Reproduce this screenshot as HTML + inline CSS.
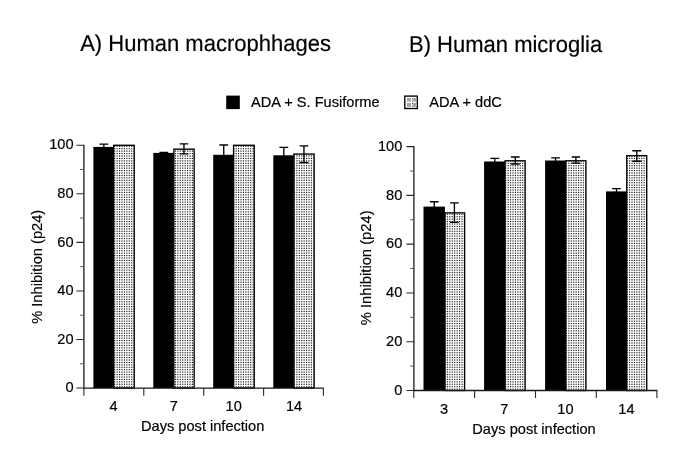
<!DOCTYPE html>
<html lang="en">
<head>
<meta charset="utf-8">
<title>Inhibition of p24 in human macrophages and microglia</title>
<style>
html,body{margin:0;padding:0;background:#fff;}
body{width:685px;height:464px;overflow:hidden;}
svg{display:block;}
svg text{font-family:"Liberation Sans",Arial,Helvetica,sans-serif;font-size:14.6px;fill:#000;stroke:#000;stroke-width:0.18px;}
svg text.title{font-size:22px;text-rendering:geometricPrecision;}
</style>
</head>
<body>
<svg width="685" height="464" viewBox="0 0 685 464">
<defs>
<pattern id="dots" x="0" y="0" width="17" height="17" patternUnits="userSpaceOnUse">
<rect x="0" y="0" width="17" height="17" fill="#fff"/>
<g fill="#111"><rect x="0.000" y="0.000" width="1.15" height="1.15"/><rect x="2.429" y="0.000" width="1.15" height="1.15"/><rect x="4.857" y="0.000" width="1.15" height="1.15"/><rect x="7.286" y="0.000" width="1.15" height="1.15"/><rect x="9.714" y="0.000" width="1.15" height="1.15"/><rect x="12.143" y="0.000" width="1.15" height="1.15"/><rect x="14.571" y="0.000" width="1.15" height="1.15"/><rect x="0.000" y="2.429" width="1.15" height="1.15"/><rect x="2.429" y="2.429" width="1.15" height="1.15"/><rect x="4.857" y="2.429" width="1.15" height="1.15"/><rect x="7.286" y="2.429" width="1.15" height="1.15"/><rect x="9.714" y="2.429" width="1.15" height="1.15"/><rect x="12.143" y="2.429" width="1.15" height="1.15"/><rect x="14.571" y="2.429" width="1.15" height="1.15"/><rect x="0.000" y="4.857" width="1.15" height="1.15"/><rect x="2.429" y="4.857" width="1.15" height="1.15"/><rect x="4.857" y="4.857" width="1.15" height="1.15"/><rect x="7.286" y="4.857" width="1.15" height="1.15"/><rect x="9.714" y="4.857" width="1.15" height="1.15"/><rect x="12.143" y="4.857" width="1.15" height="1.15"/><rect x="14.571" y="4.857" width="1.15" height="1.15"/><rect x="0.000" y="7.286" width="1.15" height="1.15"/><rect x="2.429" y="7.286" width="1.15" height="1.15"/><rect x="4.857" y="7.286" width="1.15" height="1.15"/><rect x="7.286" y="7.286" width="1.15" height="1.15"/><rect x="9.714" y="7.286" width="1.15" height="1.15"/><rect x="12.143" y="7.286" width="1.15" height="1.15"/><rect x="14.571" y="7.286" width="1.15" height="1.15"/><rect x="0.000" y="9.714" width="1.15" height="1.15"/><rect x="2.429" y="9.714" width="1.15" height="1.15"/><rect x="4.857" y="9.714" width="1.15" height="1.15"/><rect x="7.286" y="9.714" width="1.15" height="1.15"/><rect x="9.714" y="9.714" width="1.15" height="1.15"/><rect x="12.143" y="9.714" width="1.15" height="1.15"/><rect x="14.571" y="9.714" width="1.15" height="1.15"/><rect x="0.000" y="12.143" width="1.15" height="1.15"/><rect x="2.429" y="12.143" width="1.15" height="1.15"/><rect x="4.857" y="12.143" width="1.15" height="1.15"/><rect x="7.286" y="12.143" width="1.15" height="1.15"/><rect x="9.714" y="12.143" width="1.15" height="1.15"/><rect x="12.143" y="12.143" width="1.15" height="1.15"/><rect x="14.571" y="12.143" width="1.15" height="1.15"/><rect x="0.000" y="14.571" width="1.15" height="1.15"/><rect x="2.429" y="14.571" width="1.15" height="1.15"/><rect x="4.857" y="14.571" width="1.15" height="1.15"/><rect x="7.286" y="14.571" width="1.15" height="1.15"/><rect x="9.714" y="14.571" width="1.15" height="1.15"/><rect x="12.143" y="14.571" width="1.15" height="1.15"/><rect x="14.571" y="14.571" width="1.15" height="1.15"/></g>
</pattern>
</defs>
<rect x="0" y="0" width="685" height="464" fill="#fff"/>
<text transform="translate(80.20 50.70) scale(1 1.04)" class="title">A) Human macrophhages</text>
<text transform="translate(409.00 51.80) scale(1 1.04)" class="title">B) Human microglia</text>
<rect x="226.2" y="95.6" width="13.6" height="13.5" fill="#000"/>
<text transform="translate(251.00 107.40) scale(1 1.065)">ADA + S. Fusiforme</text>
<rect x="404.8" y="96.1" width="12.5" height="12.4" fill="#fff" stroke="#000" stroke-width="1.35"/>
<g fill="#a4a4a4"><rect x="407" y="98" width="4" height="3.6"/><rect x="413" y="98" width="3" height="3.6"/><rect x="407" y="103" width="4" height="3.8"/><rect x="413" y="103" width="3" height="3.8"/></g>
<g fill="#444"><rect x="412" y="98.2" width="1" height="1"/><rect x="412" y="100.6" width="1" height="1"/><rect x="412" y="103.1" width="1" height="1"/><rect x="412" y="105.6" width="1" height="1"/></g>
<text transform="translate(429.20 107.40) scale(1 1.065)">ADA + ddC</text>
<rect x="93.40" y="146.90" width="20.20" height="241.15" fill="#000"/>
<rect x="113.67" y="145.28" width="20.55" height="242.78" fill="url(#dots)" stroke="#000" stroke-width="1.35"/>
<path d="M99.40 144.10H108.30M103.85 144.10V147.90" stroke="#000" stroke-width="1.35" fill="none"/>
<rect x="153.30" y="152.90" width="20.50" height="235.15" fill="#000"/>
<rect x="173.88" y="149.18" width="20.25" height="238.88" fill="url(#dots)" stroke="#000" stroke-width="1.35"/>
<path d="M159.40 152.30H168.20M163.80 152.30V153.90" stroke="#000" stroke-width="1.35" fill="none"/>
<path d="M179.60 143.80H188.30M179.60 153.90H188.30M183.95 143.80V153.90" stroke="#000" stroke-width="1.35" fill="none"/>
<rect x="213.20" y="154.80" width="20.30" height="233.25" fill="#000"/>
<rect x="233.58" y="145.28" width="20.65" height="242.78" fill="url(#dots)" stroke="#000" stroke-width="1.35"/>
<path d="M219.40 145.00H228.10M223.75 145.00V155.80" stroke="#000" stroke-width="1.35" fill="none"/>
<rect x="273.30" y="155.30" width="20.50" height="232.75" fill="#000"/>
<rect x="293.88" y="154.08" width="20.25" height="233.97" fill="url(#dots)" stroke="#000" stroke-width="1.35"/>
<path d="M279.40 147.30H288.20M283.80 147.30V156.30" stroke="#000" stroke-width="1.35" fill="none"/>
<path d="M299.60 145.90H308.30M299.60 162.50H308.30M303.95 145.90V162.50" stroke="#000" stroke-width="1.35" fill="none"/>
<path d="M83.90 144.75V388.05H323.90" stroke="#1a1a1a" stroke-width="1.3" fill="none"/>
<path d="M76.40 388.05H83.90M76.40 339.49H83.90M76.40 290.93H83.90M76.40 242.37H83.90M76.40 193.81H83.90M76.40 145.25H83.90M83.90 388.05V395.65M143.80 388.05V395.65M203.70 388.05V395.65M263.60 388.05V395.65M323.40 388.05V395.65" stroke="#2a2a2a" stroke-width="1.1" fill="none"/>
<path d="M80.10 363.77H83.90M80.10 315.21H83.90M80.10 266.65H83.90M80.10 218.09H83.90M80.10 169.53H83.90" stroke="#555" stroke-width="1" fill="none"/>
<text transform="translate(73.60 392.20) scale(1 1.065)" text-anchor="end">0</text>
<text transform="translate(73.60 343.64) scale(1 1.065)" text-anchor="end">20</text>
<text transform="translate(73.60 295.08) scale(1 1.065)" text-anchor="end">40</text>
<text transform="translate(73.60 246.52) scale(1 1.065)" text-anchor="end">60</text>
<text transform="translate(73.60 197.96) scale(1 1.065)" text-anchor="end">80</text>
<text transform="translate(73.60 149.40) scale(1 1.065)" text-anchor="end">100</text>
<text transform="translate(113.60 411.20) scale(1 1.065)" text-anchor="middle">4</text>
<text transform="translate(173.80 411.20) scale(1 1.065)" text-anchor="middle">7</text>
<text transform="translate(233.70 411.20) scale(1 1.065)" text-anchor="middle">10</text>
<text transform="translate(294.00 411.20) scale(1 1.065)" text-anchor="middle">14</text>
<text transform="translate(202.70 431.10) scale(1 1.065)" text-anchor="middle">Days post infection</text>
<text transform="translate(42.20 266.80) rotate(-90) scale(1.04 1)" text-anchor="middle" style="font-size:14.1px">% Inhibition (p24)</text>
<rect x="423.50" y="206.60" width="21.40" height="183.90" fill="#000"/>
<rect x="444.97" y="212.88" width="19.65" height="177.62" fill="url(#dots)" stroke="#000" stroke-width="1.35"/>
<path d="M429.90 201.70H438.60M434.25 201.70V207.60" stroke="#000" stroke-width="1.35" fill="none"/>
<path d="M450.00 202.80H458.80M450.00 222.40H458.80M454.40 202.80V222.40" stroke="#000" stroke-width="1.35" fill="none"/>
<rect x="484.10" y="161.50" width="20.90" height="229.00" fill="#000"/>
<rect x="505.07" y="160.78" width="20.05" height="229.72" fill="url(#dots)" stroke="#000" stroke-width="1.35"/>
<path d="M490.40 158.40H499.20M494.80 158.40V162.50" stroke="#000" stroke-width="1.35" fill="none"/>
<path d="M510.90 157.00H519.70M510.90 164.00H519.70M515.30 157.00V164.00" stroke="#000" stroke-width="1.35" fill="none"/>
<rect x="545.10" y="160.50" width="20.60" height="230.00" fill="#000"/>
<rect x="565.77" y="160.78" width="20.15" height="229.72" fill="url(#dots)" stroke="#000" stroke-width="1.35"/>
<path d="M551.20 157.90H559.90M555.55 157.90V161.50" stroke="#000" stroke-width="1.35" fill="none"/>
<path d="M571.70 157.00H580.10M571.70 163.10H580.10M575.90 157.00V163.10" stroke="#000" stroke-width="1.35" fill="none"/>
<rect x="606.00" y="191.40" width="20.70" height="199.10" fill="#000"/>
<rect x="626.77" y="155.68" width="19.95" height="234.82" fill="url(#dots)" stroke="#000" stroke-width="1.35"/>
<path d="M612.10 188.60H620.90M616.50 188.60V192.40" stroke="#000" stroke-width="1.35" fill="none"/>
<path d="M632.30 150.70H641.30M632.30 161.20H641.30M636.80 150.70V161.20" stroke="#000" stroke-width="1.35" fill="none"/>
<path d="M413.90 146.10V390.50H657.40" stroke="#1a1a1a" stroke-width="1.3" fill="none"/>
<path d="M406.40 390.50H413.90M406.40 341.72H413.90M406.40 292.94H413.90M406.40 244.16H413.90M406.40 195.38H413.90M406.40 146.60H413.90M413.80 390.50V398.10M474.60 390.50V398.10M535.50 390.50V398.10M596.30 390.50V398.10M656.90 390.50V398.10" stroke="#2a2a2a" stroke-width="1.1" fill="none"/>
<path d="M410.10 366.11H413.90M410.10 317.33H413.90M410.10 268.55H413.90M410.10 219.77H413.90M410.10 170.99H413.90" stroke="#555" stroke-width="1" fill="none"/>
<text transform="translate(402.30 394.65) scale(1 1.065)" text-anchor="end">0</text>
<text transform="translate(402.30 345.87) scale(1 1.065)" text-anchor="end">20</text>
<text transform="translate(402.30 297.09) scale(1 1.065)" text-anchor="end">40</text>
<text transform="translate(402.30 248.31) scale(1 1.065)" text-anchor="end">60</text>
<text transform="translate(402.30 199.53) scale(1 1.065)" text-anchor="end">80</text>
<text transform="translate(402.30 150.75) scale(1 1.065)" text-anchor="end">100</text>
<text transform="translate(444.00 413.70) scale(1 1.065)" text-anchor="middle">3</text>
<text transform="translate(504.20 413.70) scale(1 1.065)" text-anchor="middle">7</text>
<text transform="translate(565.40 413.70) scale(1 1.065)" text-anchor="middle">10</text>
<text transform="translate(626.40 413.70) scale(1 1.065)" text-anchor="middle">14</text>
<text transform="translate(534.00 433.90) scale(1 1.065)" text-anchor="middle">Days post infection</text>
<text transform="translate(370.50 267.80) rotate(-90) scale(1.04 1)" text-anchor="middle" style="font-size:14.2px">% Inhibition (p24)</text>
</svg>
</body>
</html>
